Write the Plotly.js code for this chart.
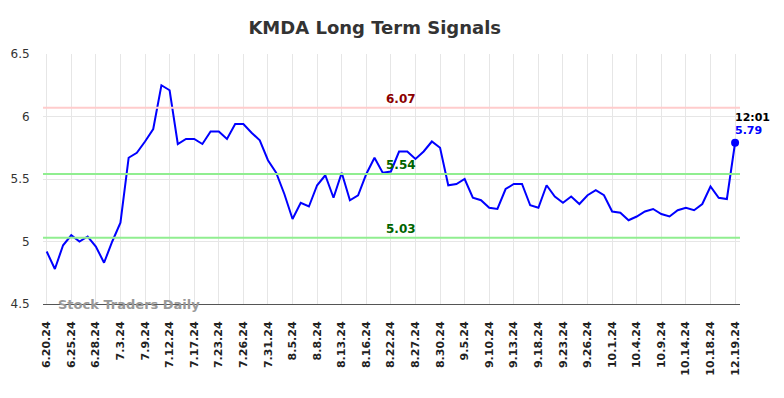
<!DOCTYPE html>
<html>
<head>
<meta charset="utf-8">
<script src="https://cdn.plot.ly/plotly-3.0.1.min.js"></script>
<style>html,body{margin:0;padding:0;background:#fff;}#chart{width:784px;height:398px;}</style>
</head>
<body>
<div id="chart"></div>
<script>
const tickLabels = ["6.20.24","6.25.24","6.28.24","7.3.24","7.9.24","7.12.24","7.17.24","7.23.24","7.26.24","7.31.24","8.5.24","8.8.24","8.13.24","8.16.24","8.22.24","8.27.24","8.30.24","9.5.24","9.10.24","9.13.24","9.18.24","9.23.24","9.26.24","10.1.24","10.4.24","10.9.24","10.14.24","10.18.24","12.19.24"];
const prices = [4.92,4.78,4.97,5.05,5.00,5.04,4.96,4.83,5.00,5.15,5.67,5.71,5.80,5.90,6.25,6.21,5.78,5.82,5.82,5.78,5.88,5.88,5.82,5.94,5.94,5.87,5.81,5.65,5.55,5.38,5.18,5.31,5.28,5.45,5.53,5.35,5.55,5.33,5.37,5.54,5.67,5.55,5.56,5.72,5.72,5.66,5.72,5.80,5.75,5.45,5.46,5.50,5.35,5.33,5.27,5.26,5.42,5.46,5.46,5.29,5.27,5.45,5.36,5.31,5.36,5.30,5.37,5.41,5.37,5.24,5.23,5.17,5.20,5.24,5.26,5.22,5.20,5.25,5.27,5.25,5.30,5.44,5.35,5.34,5.79];
const resistance = 6.07;
const supports = [5.54, 5.03];
const lastTime = "12:01";
const pointsPerTick = 3;

const idx = prices.map((_, i) => i);
const tickIdx = tickLabels.map((_, i) => i * pointsPerTick);
const lastI = prices.length - 1;
const lastV = prices[lastI];
const labelX = 43.2;

const shapes = [
  {type:'line', xref:'paper', x0:0, x1:1, yref:'y', y0:resistance, y1:resistance, line:{color:'#ffcccc', width:2}},
].concat(supports.map(s => ({type:'line', xref:'paper', x0:0, x1:1, yref:'y', y0:s, y1:s, line:{color:'#90ee90', width:2}})));

const annotations = [
  {x:labelX, y:resistance, text:resistance.toFixed(2), showarrow:false, yanchor:'bottom', yshift:0, font:{family:'DejaVu Sans', size:12, color:'#8b0000', weight:'bold'}},
].concat(supports.map(s => ({x:labelX, y:s, text:s.toFixed(2), showarrow:false, yanchor:'bottom', yshift:0, font:{family:'DejaVu Sans', size:12, color:'#006400', weight:'bold'}})))
 .concat([
  {x:lastI, y:lastV, text:lastTime, showarrow:false, xanchor:'left', yanchor:'bottom', xshift:-2, yshift:17, font:{family:'DejaVu Sans', size:11, color:'#000', weight:'bold'}},
  {x:lastI, y:lastV, text:lastV.toFixed(2), showarrow:false, xanchor:'left', yanchor:'bottom', xshift:-2, yshift:4, font:{family:'DejaVu Sans', size:11, color:'#0000ff', weight:'bold'}},
  {xref:'paper', x:0.019, y:4.5, text:'Stock Traders Daily', showarrow:false, xanchor:'left', yanchor:'middle', font:{family:'DejaVu Sans', size:13, color:'#999999', weight:'bold'}}
]);

const traces = [
  {x: idx, y: prices, type:'scatter', mode:'lines', line:{color:'#0000ff', width:2}, hoverinfo:'skip'},
  {x: [lastI], y: [lastV], type:'scatter', mode:'markers', marker:{color:'#0000ff', size:8}, hoverinfo:'skip'}
];

const layout = {
  width:784, height:398,
  margin:{l:43, r:44, t:54, b:94},
  paper_bgcolor:'#fff', plot_bgcolor:'#fff',
  showlegend:false,
  title:{text:'KMDA Long Term Signals', x:0.478, xanchor:'center', y:0.93, yanchor:'middle', font:{family:'DejaVu Sans', size:18, color:'#333', weight:'bold'}},
  xaxis:{range:[-0.45, 84.6], tickmode:'array', tickvals:tickIdx, ticktext:tickLabels, tickangle:-90,
    showgrid:true, gridcolor:'#e6e6e6', gridwidth:1, zeroline:false, showline:true, linecolor:'#555', linewidth:1,
    ticks:'outside', ticklen:12, tickcolor:'rgba(0,0,0,0)',
    tickfont:{family:'DejaVu Sans', size:11, color:'#222', weight:'bold'}},
  yaxis:{range:[4.5, 6.5], tickvals:[4.5,5,5.5,6,6.5], ticktext:['4.5','5','5.5','6','6.5'],
    showgrid:true, gridcolor:'#e6e6e6', gridwidth:1, zeroline:false, showline:false,
    ticks:'outside', ticklen:10, tickcolor:'rgba(0,0,0,0)',
    tickfont:{family:'DejaVu Sans', size:12, color:'#333'}},
  shapes: shapes,
  annotations: annotations
};

Plotly.newPlot('chart', traces, layout, {staticPlot:true, displayModeBar:false});
</script>
</body>
</html>
